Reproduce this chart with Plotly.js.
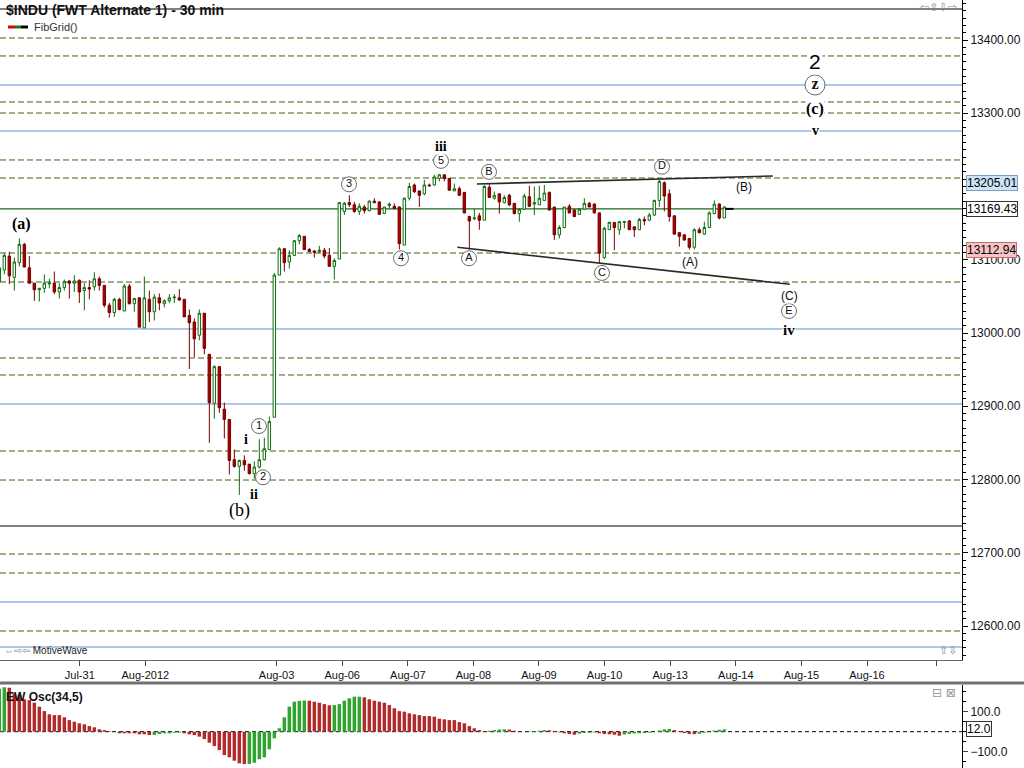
<!DOCTYPE html>
<html><head><meta charset="utf-8">
<script src="https://cdn.plot.ly/plotly-3.0.1.min.js"></script>
<style>html,body{margin:0;padding:0;background:#fff}#chart{width:1024px;height:768px}</style>
</head><body><div id="chart"></div>
<script>
// ---- 30-min bars (bar index; -1 = last bar before Jul-30) ----
const barIndex = Array.from({length:146},(_,i)=>i-1);
const openP  = [13070,13086,13105,13076,13096,13121,13089,13068,13059,13061,13067,13068,13056,13062,13071,13068,13072,13058,13062,13063,13074,13065,13038,13028,13046,13030,13064,13040,13048,13007,13046,13029,13048,13040,13044,13048,13048,13046,13024,13015,12997,13027,12971,12904,12954,12896,12882,12827,12818,12826,12821,12808,12817,12827,12841,12885,
13079,13115,13097,13106,13126,13132,13114,13112,13111,13113,13106,13091,13101,13166,13178,13175,13166,13172,13167,13180,13179,13163,13174,13173,13172,13120,13184,13202,13194,13190,13202,13202,13211,13216,13211,13194,13197,13192,13159,13156,13160,13154,13199,13184,13190,13178,13188,13177,13163,13169,13186,13176,13175,13181,13192,13172,13134,13144,13173,13168,13162,13169,13177,13176,13164,13103,13141,13151,13141,13151,13153,13145,13141,13155,13154,13161,13181,13205,13190,13160,13137,13134,13129,13117,13141,13135,13144,13163,13176,13157];
const highP  = [13092,13109,13111,13103,13129,13123,13105,13068,13061,13080,13074,13084,13068,13073,13072,13079,13073,13068,13072,13083,13077,13065,13041,13048,13048,13067,13067,13048,13049,13077,13058,13053,13054,13046,13053,13053,13060,13046,13032,13020,13032,13027,12971,12956,12955,12905,12882,12841,12827,12833,12821,12825,12855,12857,12886,13082,
13117,13116,13113,13127,13135,13132,13116,13113,13119,13116,13116,13102,13179,13179,13188,13179,13177,13175,13181,13184,13180,13172,13178,13177,13173,13185,13205,13204,13194,13209,13204,13216,13217,13216,13211,13204,13200,13192,13160,13169,13164,13202,13203,13193,13190,13188,13190,13177,13170,13190,13201,13200,13201,13202,13193,13172,13147,13172,13176,13169,13170,13184,13179,13177,13164,13145,13152,13151,13153,13153,13154,13145,13157,13159,13164,13182,13209,13207,13196,13160,13138,13135,13129,13143,13144,13152,13166,13181,13177,13173];
const lowP   = [13068,13080,13067,13058,13091,13090,13068,13044,13043,13055,13061,13053,13047,13058,13047,13056,13041,13031,13046,13058,13058,13035,13021,13022,13031,13030,13039,13029,13008,13007,13015,13017,13031,13035,13041,13041,13044,13022,12951,12967,12990,12971,12850,12883,12891,12856,12807,12816,12779,12812,12807,12801,12815,12826,12840,12885,
13079,13084,13088,13106,13121,13113,13111,13103,13109,13102,13091,13073,13101,13161,13172,13164,13161,13163,13166,13177,13162,13163,13170,13169,13114,13120,13181,13191,13172,13188,13200,13201,13207,13207,13194,13194,13187,13163,13114,13154,13141,13154,13185,13182,13163,13177,13173,13162,13152,13168,13172,13161,13175,13181,13167,13127,13129,13143,13163,13158,13161,13168,13172,13163,13095,13101,13141,13113,13134,13143,13141,13131,13141,13147,13153,13160,13172,13166,13152,13134,13118,13126,13114,13114,13136,13134,13143,13162,13155,13157];
const closeP = [13089,13106,13078,13097,13121,13090,13068,13059,13061,13068,13068,13056,13062,13070,13068,13071,13056,13062,13060,13074,13065,13038,13028,13046,13032,13064,13040,13047,13008,13048,13029,13049,13041,13044,13048,13049,13045,13022,13014,12992,13027,12979,12905,12954,12898,12882,12826,12818,12826,12820,12808,12817,12827,12842,12879,13079,
13115,13096,13106,13126,13133,13114,13111,13110,13113,13105,13091,13099,13178,13177,13175,13166,13173,13167,13180,13178,13162,13172,13176,13170,13122,13184,13200,13193,13188,13202,13201,13213,13216,13211,13195,13197,13188,13164,13153,13157,13154,13200,13185,13188,13179,13185,13175,13163,13169,13187,13173,13178,13184,13191,13168,13134,13144,13172,13164,13159,13169,13177,13172,13164,13109,13143,13151,13144,13152,13152,13141,13141,13155,13153,13161,13181,13207,13187,13159,13135,13132,13127,13117,13141,13137,13144,13164,13176,13157,13172];
const lastBar = 145, lastPrice = 13169.43;

// ---- EW oscillator (34,5), bar index -1..145 ----
const oscValues = [215,222,220,192,183,162,158,145,125,103,87,83,83,72,58,50,42,37,28,22,12,8,3,0,-8,-8,-8,-8,-13,-13,-17,-16,-12,-8,-8,-5,-5,-8,-13,-17,-25,-37,-55,-72,-92,-117,-128,-145,-158,-162,-161,-155,-138,-128,-88,-33,17,72,125,150,154,156,155,150,145,138,132,133,138,155,167,175,175,172,162,155,150,145,133,117,103,100,92,87,83,78,78,75,65,62,58,58,48,42,28,17,8,3,5,8,11,12,11,5,2,0,2,3,5,8,7,4,-3,-8,-12,-15,-10,-6,-5,-4,-8,-12,-13,-15,-20,-14,-11,-9,-8,-7,-5,0,6,12,14,8,2,-7,-11,-12,-10,-5,0,6,10,12,12];
const oscLast = 12.0;

// ---- FibGrid levels ----
const fibDashed = [13402.7,13378.2,13315.4,13300.3,13236.2,13211.6,13109.2,13069.6,12965.9,12942.7,12838.9,12799.3,12698.3,12672.4,12593.2];
const fibBlue   = [13338.6,13275.8,13005.5,12903.1,12632.8,12571.3];
const fibBlack  = [13442.3,12736.5];

// ---- trendlines (bar index, price) ----
const upperLineX = [94.5,153.7], upperLineY = [13203.4,13214.3];
const lowerLineX = [90.6,157.1], lowerLineY = [13117.0,13066.5];

// ---- price boxes on the axis ----
const boxHigh = 13205.01, boxLow = 13112.94;

// ---- price axis labels (13200.00 is covered by the 13205.01 box) ----
const priceTicks = [12600,12700,12800,12900,13000,13100,13200,13300,13400];
const priceTickText = ['12600.00','12700.00','12800.00','12900.00','13000.00','13100.00','','13300.00','13400.00'];

// ---- date axis ----
const tickPos = [15.09,28.21,54.45,67.57,80.69,93.81,106.93,120.05,133.17,146.29,159.41,172.53,186.5];
const tickLabels = ['Jul-31','Aug-2012','Aug-03','Aug-06','Aug-07','Aug-08','Aug-09','Aug-10','Aug-13','Aug-14','Aug-15','Aug-16',''];

// ---- wave labels ----
const circX = [50.93,51.73,68.93,79.33,87.33,92.93,96.93,119.53,131.53,156.93];
const circY = [12873,12803,13203,13102,13235,13102,13220,13082,13227,13030];
const circT = ['1','2','3','4','5','A','B','C','D','E'];
const serifX = [3.53,47.13,48.33,49.93,87.33,156.93,162.13,162.13];
const serifY = [13149,12758,12855,12780,13255,13004,13276,13306];
const serifT = ['(a)','(b)','i','ii','iii','iv','v','(c)'];
const serifSize = [16,18,14,14,14,15,14,16];
const serifBold = [true,false,true,true,true,true,true,true];
const sansX = [137.13,147.93,156.93], sansY = [13097,13199,13050.5], sansT = ['(A)','(B)','(C)'];
const bigX = 162.13, bigY = 13371, bigT = '2';
const zX = 162.13, zY = 13338.6, zT = 'z';

// ---- geometry helpers ----
const W = 1024, H = 768, PW = 962;
const px = v => v / PW;           // paper x from pixel
const py = v => 1 - v / H;        // paper y from pixel

const oscColors = [];
oscValues.forEach((v,i)=>{
  let c;
  if (i===0) c='#2fa52f';
  else if (v>oscValues[i-1]) c='#2fa52f';
  else if (v<oscValues[i-1]) c='#b02c2c';
  else c=oscColors[i-1];
  oscColors.push(c);
});

const traces = [
  {type:'candlestick', x:barIndex, open:openP, high:highP, low:lowP, close:closeP,
   xaxis:'x', yaxis:'y',
   increasing:{line:{color:'#0e6e0e',width:1}, fillcolor:'#ffffff'},
   decreasing:{line:{color:'#780000',width:1}, fillcolor:'#a80000'},
   whiskerwidth:0, hoverinfo:'skip', showlegend:false},
  {type:'scatter', mode:'lines', x:upperLineX, y:upperLineY, line:{color:'#2a2a2a',width:1.6}, hoverinfo:'skip', showlegend:false},
  {type:'scatter', mode:'lines', x:lowerLineX, y:lowerLineY, line:{color:'#2a2a2a',width:1.6}, hoverinfo:'skip', showlegend:false},
  {type:'scatter', mode:'markers', x:[lastBar], y:[lastPrice], marker:{symbol:'line-ew', size:6, line:{color:'#000',width:2}}, hoverinfo:'skip', showlegend:false},
  {type:'scatter', mode:'markers+text', x:circX, y:circY, text:circT, textposition:'middle center',
   marker:{symbol:'circle', size:15, color:'#ffffff', line:{color:'#6a6a6a',width:1}},
   textfont:{family:'Liberation Sans, Arial', size:11, color:'#111'}, hoverinfo:'skip', showlegend:false, cliponaxis:false},
  {type:'scatter', mode:'markers+text', x:[zX], y:[zY], text:[zT], textposition:'middle center',
   marker:{symbol:'circle', size:20, color:'#ffffff', line:{color:'#6a6a6a',width:1}},
   textfont:{family:'Liberation Serif, Times New Roman', size:16, color:'#111', weight:'bold'}, hoverinfo:'skip', showlegend:false, cliponaxis:false},
  {type:'bar', x:barIndex, y:oscValues, marker:{color:oscColors, line:{width:0}}, width:0.7,
   xaxis:'x2', yaxis:'y2', hoverinfo:'skip', showlegend:false}
];

const shapes = [];
fibDashed.forEach(v=>shapes.push({type:'line',xref:'paper',x0:0,x1:1,yref:'y',y0:v,y1:v,line:{color:'#45600f',width:1,dash:'6px,3px'},layer:'below'}));
fibBlue.forEach(v=>shapes.push({type:'line',xref:'paper',x0:0,x1:1,yref:'y',y0:v,y1:v,line:{color:'#5f8fe0',width:1},layer:'below'}));
fibBlack.forEach(v=>shapes.push({type:'line',xref:'paper',x0:0,x1:1,yref:'y',y0:v,y1:v,line:{color:'#000',width:1},layer:'below'}));
shapes.push({type:'line',xref:'paper',x0:0,x1:1,yref:'y',y0:lastPrice,y1:lastPrice,line:{color:'#1a6a1a',width:1.2},layer:'below'});
// oscillator zero line
shapes.push({type:'line',xref:'paper',x0:0,x1:1,yref:'y2',y0:0,y1:0,line:{color:'#000',width:1,dash:'4px,3px'},layer:'below'});
// panel separator
shapes.push({type:'line',xref:'paper',x0:0,x1:1.07,yref:'paper',y0:py(683),y1:py(683),line:{color:'#707070',width:3}});
// FibGrid legend icon
shapes.push({type:'line',xref:'paper',yref:'paper',x0:px(8),x1:px(15),y0:py(27),y1:py(27),line:{color:'#e00000',width:3}});
shapes.push({type:'line',xref:'paper',yref:'paper',x0:px(15),x1:px(21),y0:py(27),y1:py(27),line:{color:'#108010',width:3}});
shapes.push({type:'line',xref:'paper',yref:'paper',x0:px(21),x1:px(28),y0:py(27),y1:py(27),line:{color:'#000',width:3}});

const annotations = [];
const serifFam = 'Liberation Serif, Times New Roman, serif';
serifT.forEach((t,i)=>annotations.push({x:serifX[i],y:serifY[i],xref:'x',yref:'y',text:serifBold[i]?'<b>'+t+'</b>':t,showarrow:false,
  font:{family:serifFam,size:serifSize[i],color:'#000'},bgcolor:'#ffffff',borderpad:0,xanchor:'center',yanchor:'middle'}));
sansT.forEach((t,i)=>annotations.push({x:sansX[i],y:sansY[i],xref:'x',yref:'y',text:t,showarrow:false,
  font:{family:'Liberation Sans, Arial',size:12,color:'#111'},bgcolor:'#ffffff',borderpad:0}));
annotations.push({x:bigX,y:bigY,xref:'x',yref:'y',text:bigT,showarrow:false,font:{family:'Liberation Sans, Arial',size:21,color:'#000'},bgcolor:'#ffffff',borderpad:1});
// title & legend text
annotations.push({xref:'paper',yref:'paper',x:px(4),y:py(10),xanchor:'left',yanchor:'middle',showarrow:false,
  text:'<b>$INDU (FWT Alternate 1) - 30 min</b>',font:{family:'Liberation Sans, Arial',size:14,color:'#111'}});
annotations.push({xref:'paper',yref:'paper',x:px(32),y:py(27),xanchor:'left',yanchor:'middle',showarrow:false,
  text:'FibGrid()',font:{family:'Liberation Sans, Arial',size:11,color:'#333'}});
annotations.push({xref:'paper',yref:'paper',x:px(959),y:py(7),xanchor:'right',yanchor:'middle',showarrow:false,
  text:'⇦⇧⇩⇨',font:{family:'DejaVu Sans',size:11,color:'#888'}});
annotations.push({xref:'paper',yref:'paper',x:px(2),y:py(650),xanchor:'left',yanchor:'middle',showarrow:false,
  text:'<span style="color:#888">⇔⇨⇦</span> MotiveWave',font:{family:'Liberation Sans, Arial',size:10,color:'#222'}});
annotations.push({xref:'paper',yref:'paper',x:px(959),y:py(650),xanchor:'right',yanchor:'middle',showarrow:false,
  text:'⇧⇩',font:{family:'DejaVu Sans',size:11,color:'#888'}});
annotations.push({xref:'paper',yref:'paper',x:px(4),y:py(697),xanchor:'left',yanchor:'middle',showarrow:false,
  text:'<b>EW Osc(34,5)</b>',font:{family:'Liberation Sans, Arial',size:12,color:'#111'}});
annotations.push({xref:'paper',yref:'paper',x:px(958),y:py(693),xanchor:'right',yanchor:'middle',showarrow:false,
  text:'⊟ ⊠',font:{family:'DejaVu Sans',size:12,color:'#999'}});
// price boxes on the right axis
const boxStyle = (val,bg,bc,yr)=>({xref:'paper',yref:yr,x:1.004,y:val,xanchor:'left',yanchor:'middle',showarrow:false,
  text:val.toFixed(yr==='y2'?1:2),font:{family:'Liberation Sans, Arial',size:12,color:'#000'},
  bgcolor:bg,bordercolor:bc,borderwidth:1,borderpad:0});
annotations.push(boxStyle(boxHigh,'#cde3f6','#7d9fc4','y'));
annotations.push(boxStyle(lastPrice,'#ffffff','#333333','y'));
annotations.push(boxStyle(boxLow,'#f6c4c4','#c07070','y'));
annotations.push(boxStyle(oscLast,'#ffffff','#333333','y2'));

const layout = {
  width:W, height:H, margin:{l:0,r:W-PW,t:0,b:0}, paper_bgcolor:'#fff', plot_bgcolor:'#fff',
  font:{family:'Liberation Sans, Arial', size:12, color:'#000'},
  showlegend:false,
  xaxis:{domain:[0,1], range:[-0.866,191.53], anchor:'y', tickmode:'array', tickvals:tickPos, ticktext:tickLabels,
    ticks:'outside', ticklen:5, tickcolor:'#444', showline:true, linecolor:'#666', linewidth:1,
    showgrid:false, zeroline:false, tickfont:{family:'Liberation Sans Narrow, Arial Narrow, Liberation Sans',size:11,color:'#111'},
    rangeslider:{visible:false}, fixedrange:true},
  yaxis:{domain:[1-660/H,1], range:[12553.6,13454.6], side:'right', anchor:'x', tickmode:'array',
    tickvals:priceTicks, ticktext:priceTickText,
    ticks:'outside', ticklen:5, tickcolor:'#000', showline:true, linecolor:'#000', linewidth:1,
    minor:{ticks:'outside', ticklen:3, dtick:10, tick0:0, tickcolor:'#000', showgrid:false},
    showgrid:false, zeroline:false, tickfont:{size:12,color:'#111'}, fixedrange:true},
  xaxis2:{domain:[0,1], matches:'x', anchor:'y2', showticklabels:false, ticks:'', showline:false, showgrid:false, zeroline:false},
  yaxis2:{domain:[0,83/H], range:[-181.5,233.5], side:'right', anchor:'x2', tickmode:'array', tickvals:[-100,100],
    tickformat:'.1f', ticks:'outside', ticklen:5, showline:true, linecolor:'#000', linewidth:1,
    minor:{ticks:'outside', ticklen:3, dtick:50, tick0:0, tickcolor:'#000', showgrid:false},
    showgrid:false, zeroline:false, tickfont:{size:12,color:'#111'}, fixedrange:true},
  bargap:0.3,
  shapes:shapes, annotations:annotations
};

Plotly.newPlot('chart', traces, layout, {staticPlot:true, displayModeBar:false});
</script>
</body></html>
